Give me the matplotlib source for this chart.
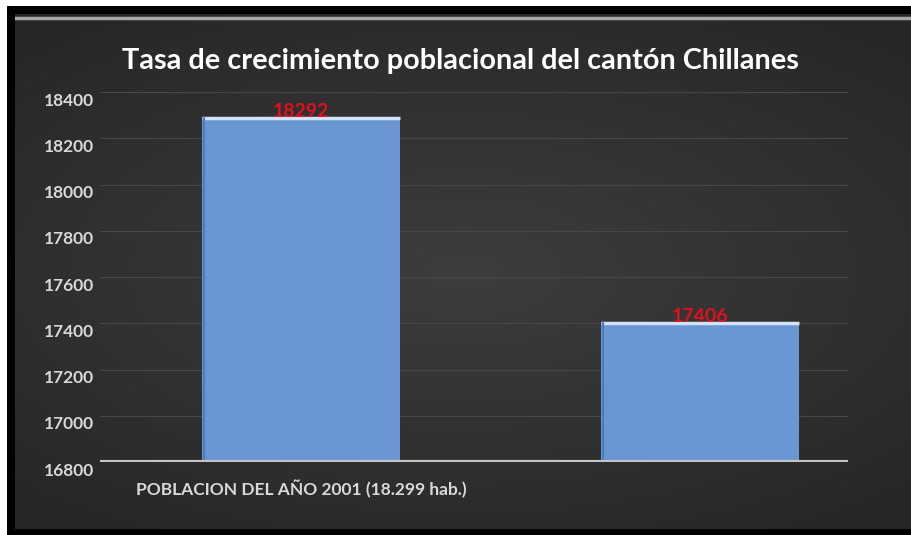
import numpy as np
import matplotlib.pyplot as plt
from matplotlib.patches import Rectangle
from matplotlib.transforms import ScaledTranslation

# Population figures for the canton
categories = ['POBLACION DEL AÑO 2001 (18.299 hab.)', '']
values = [18292, 17406]
y_ticks = [16800, 17000, 17200, 17400, 17600, 17800, 18000, 18200, 18400]
title = 'Tasa de crecimiento poblacional del cantón Chillanes'

FONT = 'Lato'
W, H = 912, 535
fig = plt.figure(figsize=(W / 100, H / 100), dpi=100, facecolor='white')


def px_axes(x0, y0, x1, y1, **kw):
    # axes placed by pixel box (top-left origin)
    return fig.add_axes([x0 / W, 1 - y1 / H, (x1 - x0) / W, (y1 - y0) / H], **kw)


# black frame and dark panel with soft radial shading
frame = px_axes(7, 6, W, H)
frame.set_axis_off()
frame.add_patch(Rectangle((0, 0), 1, 1, color='black', transform=frame.transAxes))

panel = px_axes(15, 14, W, 529)
panel.set_axis_off()
gx, gy = np.meshgrid(np.linspace(-1, 1, 400), np.linspace(-1, 1, 240))
r = np.sqrt((gx / 1.1) ** 2 + (gy / 0.9) ** 2)
shade = 0.24 - 0.085 * np.clip(r, 0, 1.3) / 1.3
panel.imshow(np.dstack([shade, shade, shade]), aspect='auto', extent=(0, 1, 0, 1),
             interpolation='bilinear')
panel.axhline(0.993, color='#a8a8a8', lw=2.5)
panel.set_xlim(0, 1)
panel.set_ylim(0, 1)

# chart area
ax = px_axes(100, 92, 848, 462)
ax.set_facecolor('none')
x = np.arange(len(values))
ax.set_xlim(-0.504, 1.371)
ax.set_ylim(y_ticks[0], y_ticks[-1])

for t in y_ticks[1:]:
    ax.axhline(t, color='#474747', lw=0.8, zorder=0)

bars = ax.bar(x, [v - y_ticks[0] for v in values], bottom=y_ticks[0], width=0.496,
              color='#6a97d4', edgecolor='none', zorder=2)
for b, v in zip(bars, values):
    # lighter rim along the top of each bar
    ax.plot([b.get_x(), b.get_x() + b.get_width()], [v - 6, v - 6],
            color='#d2e2f7', lw=2.5, zorder=3, solid_capstyle='butt')
    ax.plot([b.get_x() + 0.004] * 2, [y_ticks[0], v], color='#4f7bb8', lw=1.5, zorder=3)
    ax.text(b.get_x() + b.get_width() / 2, v + 22, str(v), color='#e0101e',
            fontsize=14, fontweight='bold', ha='center', va='center', zorder=4,
            family=FONT)

ax.axhline(y_ticks[0], color='#c4c4c4', lw=3, zorder=5)

for s in ax.spines.values():
    s.set_visible(False)
ax.set_yticks(y_ticks)
ax.set_yticklabels([str(t) for t in y_ticks], color='#d8d8d8', fontsize=12.5,
                   fontweight='bold', family=FONT)
ax.tick_params(axis='y', length=0, pad=4)
down = ScaledTranslation(0, -7 / 100, fig.dpi_scale_trans)
for lbl in ax.get_yticklabels():
    lbl.set_transform(lbl.get_transform() + down)
ax.set_xticks(x)
ax.set_xticklabels(categories, color='#d8d8d8', fontsize=12.5, fontweight='bold',
                   family=FONT)
ax.tick_params(axis='x', length=0, pad=13)

fig.text(460 / W, 1 - 61 / H, title, color='white', fontsize=20.8, fontweight='bold',
         ha='center', va='center', family=FONT)

fig.savefig('out.png', dpi=100, facecolor='white')
